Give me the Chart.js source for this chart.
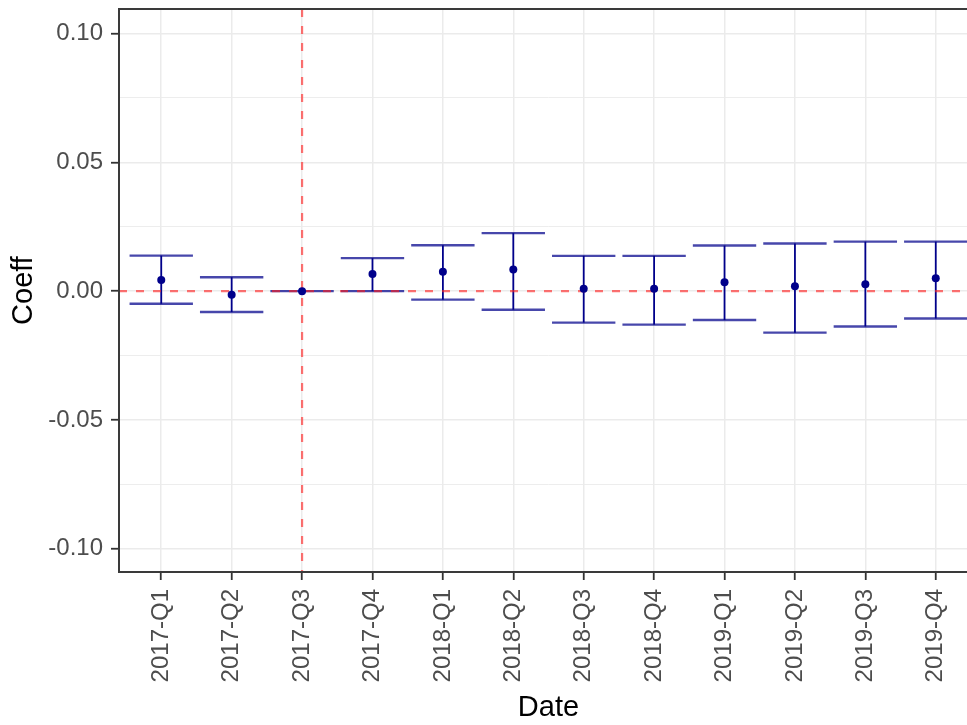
<!DOCTYPE html>
<html>
<head>
<meta charset="utf-8">
<title>Coeff by quarter</title>
<script src="https://cdn.jsdelivr.net/npm/chart.js@4.4.1/dist/chart.umd.min.js"></script>
<style>
  html, body { margin: 0; padding: 0; background: #fff; overflow: hidden; }
  #wrap { width: 990px; height: 725px; }
</style>
</head>
<body>
<div id="wrap"><canvas id="coefChart" width="990" height="725"></canvas></div>
<script>
// values
const quarters = ["2017-Q1", "2017-Q2", "2017-Q3", "2017-Q4",
                  "2018-Q1", "2018-Q2", "2018-Q3", "2018-Q4",
                  "2019-Q1", "2019-Q2", "2019-Q3", "2019-Q4"];
const coef   = [0.0043, -0.0014, 0.0000, 0.0067, 0.0075, 0.0084, 0.0009, 0.0009, 0.0035, 0.0019, 0.0027, 0.0050];
const ciLow  = [-0.0049, -0.0081, 0.0000, 0.0000, -0.0033, -0.0072, -0.0122, -0.0130, -0.0112, -0.0161, -0.0137, -0.0106];
const ciHigh = [0.0138, 0.0054, 0.0000, 0.0128, 0.0178, 0.0225, 0.0137, 0.0137, 0.0177, 0.0185, 0.0192, 0.0192];
const yTicks = [-0.1, -0.075, -0.05, -0.025, 0, 0.025, 0.05, 0.075, 0.1];
const refY = 0;
const refQuarter = "2017-Q3";

const FONT = "'Liberation Sans', Arial, sans-serif";
const NAVY = "#00008B";
const CAP_HALF = 0.45;

function isMajor(v) {
    return Math.abs(v * 20 - Math.round(v * 20)) < 1e-6;
}

const errorBars = {
    id: 'errorBars',
    beforeDatasetsDraw(chart) {
        const {ctx, chartArea, scales: {x, y}} = chart;
        ctx.save();
        ctx.beginPath();
        ctx.rect(chartArea.left, chartArea.top, chartArea.width, chartArea.height);
        ctx.clip();

        quarters.forEach((q, i) => {
            let px = x.getPixelForValue(i);
            let lo = y.getPixelForValue(ciLow[i]);
            let hi = y.getPixelForValue(ciHigh[i]);
            let l = x.getPixelForValue(i - CAP_HALF);
            let r = x.getPixelForValue(i + CAP_HALF);

            ctx.strokeStyle = "rgba(0,0,139,0.72)";
            ctx.lineWidth = 2.4;
            ctx.beginPath();
            ctx.moveTo(l, lo); ctx.lineTo(r, lo);
            ctx.moveTo(l, hi); ctx.lineTo(r, hi);
            ctx.stroke();

            ctx.strokeStyle = NAVY;
            ctx.lineWidth = 1.8;
            ctx.beginPath();
            ctx.moveTo(px, lo);
            ctx.lineTo(px, hi);
            ctx.stroke();
        });

        // dashed reference lines
        ctx.strokeStyle = "rgba(255,30,30,0.62)";
        ctx.lineWidth = 2.2;
        ctx.setLineDash([8, 9]);
        let y0 = y.getPixelForValue(refY);
        ctx.beginPath();
        ctx.moveTo(chartArea.left, y0);
        ctx.lineTo(chartArea.right, y0);
        ctx.stroke();
        let xv = x.getPixelForValue(quarters.indexOf(refQuarter));
        ctx.beginPath();
        ctx.moveTo(xv, chartArea.top);
        ctx.lineTo(xv, chartArea.bottom);
        ctx.stroke();
        ctx.restore();
    },
    afterDraw(chart) {
        const {ctx, chartArea} = chart;
        ctx.save();
        ctx.strokeStyle = "#3a3a3a";
        ctx.lineWidth = 2;
        ctx.strokeRect(chartArea.left, chartArea.top, chartArea.width, chartArea.height);
        ctx.restore();
    }
};

let config = {
    type: 'scatter',
    data: {
        datasets: [{
            label: 'Coeff',
            data: quarters.map((q, i) => ({x: i, y: coef[i]})),
            backgroundColor: NAVY,
            borderWidth: 0,
            pointRadius: 4,
        }]
    },
    options: {
        responsive: false,
        devicePixelRatio: 1,
        animation: false,
        layout: {
            padding: {left: 0, right: 12, top: 9, bottom: 0}
        },
        plugins: {
            legend: {display: false},
            tooltip: {enabled: false},
        },
        scales: {
            x: {
                type: 'linear',
                min: -0.6,
                max: 11.6,
                afterBuildTicks: (scale) => {
                    scale.ticks = quarters.map((q, i) => ({value: i}));
                },
                afterFit: (scale) => {
                    scale.height = 153;
                    scale.paddingLeft = 0;
                    scale.paddingRight = 0;
                },
                border: {display: false},
                grid: {
                    color: "#EBEBEB",
                    lineWidth: 1.5,
                    tickLength: 8,
                    tickColor: "#333",
                    tickWidth: 1.8,
                },
                ticks: {
                    autoSkip: false,
                    minRotation: 90,
                    maxRotation: 90,
                    padding: 9,
                    color: "#4D4D4D",
                    font: {family: FONT, size: 24},
                    callback: (v) => quarters[v],
                },
                title: {
                    display: true,
                    text: "Date",
                    color: "#000",
                    font: {family: FONT, size: 29},
                    padding: 0,
                },
            },
            y: {
                min: -0.109,
                max: 0.1095,
                afterBuildTicks: (scale) => {
                    scale.ticks = yTicks.map(v => ({value: v}));
                },
                afterFit: (scale) => {
                    scale.width = 119;
                    scale.paddingTop = 0;
                    scale.paddingBottom = 0;
                },
                border: {display: false},
                grid: {
                    color: "#EBEBEB",
                    lineWidth: (c) => isMajor(c.tick.value) ? 1.5 : 0.9,
                    tickLength: 8,
                    tickColor: (c) => isMajor(c.tick.value) ? "#333" : "rgba(0,0,0,0)",
                    tickWidth: 1.8,
                },
                ticks: {
                    autoSkip: false,
                    padding: 8,
                    color: "#4D4D4D",
                    font: {family: FONT, size: 24},
                    callback: (v) => isMajor(v) ? v.toFixed(2) : '',
                },
                title: {
                    display: true,
                    text: "Coeff",
                    color: "#000",
                    font: {family: FONT, size: 29},
                    padding: {top: 7, bottom: 0},
                },
            },
        },
    },
    plugins: [errorBars],
};

window.coefChart = new Chart(document.getElementById('coefChart').getContext('2d'), config);
</script>
</body>
</html>
